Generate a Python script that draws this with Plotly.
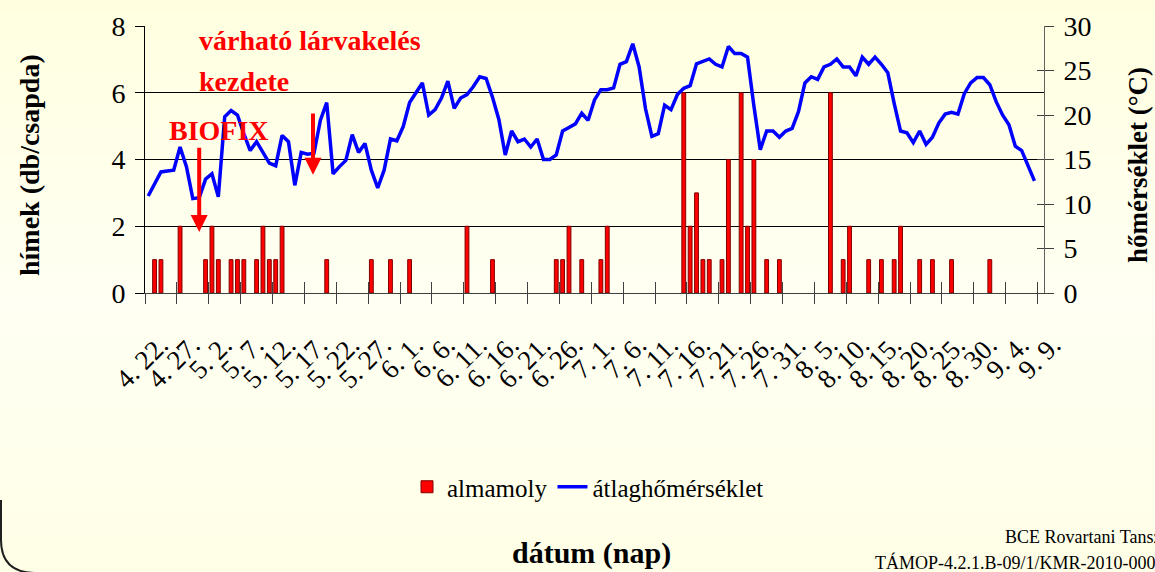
import plotly.graph_objects as go

# ---------------- data ----------------
tick_labels = ["4. 22.", "4. 27.", "5. 2.", "5. 7.", "5. 12.", "5. 17.", "5. 22.", "5. 27.",
               "6. 1.", "6. 6.", "6. 11.", "6. 16.", "6. 21.", "6. 26.", "7. 1.", "7. 6.",
               "7. 11.", "7. 16.", "7. 21.", "7. 26.", "7. 31.", "8. 5.", "8. 10.", "8. 15.",
               "8. 20.", "8. 25.", "8. 30.", "9. 4.", "9. 9."]

# daily male catches (db/csapda), 4.22 - 9.9
almamoly = [0, 1, 1, 0, 0, 2, 0, 0, 0, 1,
            2, 1, 0, 1, 1, 1, 0, 1, 2, 1,
            1, 2, 0, 0, 0, 0, 0, 0, 1, 0,
            0, 0, 0, 0, 0, 1, 0, 0, 1, 0,
            0, 1, 0, 0, 0, 0, 0, 0, 0, 0,
            2, 0, 0, 0, 1, 0, 0, 0, 0, 0,
            0, 0, 0, 0, 1, 1, 2, 0, 1, 0,
            0, 1, 2, 0, 0, 0, 0, 0, 0, 0,
            0, 0, 0, 0, 6, 2, 3, 1, 1, 0,
            1, 4, 0, 6, 2, 4, 0, 1, 0, 1,
            0, 0, 0, 0, 0, 0, 0, 6, 0, 1,
            2, 0, 0, 1, 0, 1, 0, 1, 2, 0,
            0, 1, 0, 1, 0, 0, 1, 0, 0, 0,
            0, 0, 1, 0, 0, 0, 0, 0, 0, 0,
            0]

# daily mean temperature (°C)
atlaghomerseklet = [10.9, 12.3, 13.6, 13.7, 13.8, 16.4, 14.2, 10.6, 10.7, 12.8,
                    13.4, 10.8, 19.8, 20.5, 20.0, 17.9, 16.0, 17.0, 15.8, 14.6,
                    14.3, 17.7, 17.0, 12.1, 15.8, 15.6, 15.7, 19.4, 21.4, 13.4,
                    14.2, 14.9, 17.8, 15.8, 16.8, 13.8, 11.8, 13.8, 17.3, 17.1,
                    18.7, 21.4, 22.5, 23.6, 20.0, 20.6, 21.9, 23.8, 20.75, 21.9,
                    22.3, 23.2, 24.3, 24.1, 22.0, 19.5, 15.5, 18.2, 17.0, 17.3,
                    16.4, 17.3, 15.0, 15.0, 15.5, 18.2, 18.6, 19.0, 20.2, 19.4,
                    21.7, 22.85, 22.85, 23.05, 25.7, 26.0, 28.0, 25.4, 20.7, 17.6,
                    17.9, 21.1, 20.6, 22.3, 23.0, 23.3, 25.75, 26.0, 26.3, 25.7,
                    25.4, 27.7, 26.9, 26.9, 26.5, 21.0, 16.1, 18.2, 18.2, 17.5,
                    18.2, 18.5, 20.4, 23.6, 24.3, 24.0, 25.4, 25.7, 26.3, 25.4,
                    25.4, 24.4, 26.5, 25.7, 26.5, 25.7, 24.75, 21.3, 18.2, 18.0,
                    16.9, 18.2, 16.7, 17.5, 19.1, 20.1, 20.3, 20.1, 22.4, 23.6,
                    24.2, 24.2, 23.4, 21.5, 20.0, 18.9, 16.5, 16.0, 14.2, 12.6,
                    None]

left_ticks = [0, 2, 4, 6, 8]
right_ticks = [0, 5, 10, 15, 20, 25, 30]

# annotation anchors (day index, left-axis value)
biofix_day = 8
larva_day = 25.85

# ---------------- layout helpers ----------------
FW, FH = 1155, 572
L, R, T, B = 145, 1044, 26, 293
PW, PH = R - L, B - T


def pxx(px):
    return (px - L) / PW


def pxy(py):
    return (B - py) / PH


SERIF = "Liberation Serif, Times New Roman, serif"
n = len(almamoly)
days = list(range(n))
label_vals = [5 * k for k in range(len(tick_labels))]
bound_vals = [5 * k - 0.5 for k in range(len(tick_labels))]

fig = go.Figure()
fig.add_trace(go.Bar(
    x=days, y=[v if v else None for v in almamoly], width=0.6, name="almamoly",
    marker=dict(color="#FF0000", line=dict(color="#800000", width=1)),
))
fig.add_trace(go.Scatter(
    x=days, y=atlaghomerseklet, yaxis="y2", name="átlaghőmérséklet", mode="lines",
    line=dict(color="#0000FF", width=3.5),
))
# helper traces so overlay axes (tick styling) get drawn
for xa, ya in [("x2", "y"), ("x3", "y"), ("x", "y3"), ("x", "y4")]:
    fig.add_trace(go.Scatter(x=[None], y=[None], xaxis=xa, yaxis=ya,
                             showlegend=False, hoverinfo="skip"))

# background gradient
shapes = []
N = 48


def bgcol(py):
    if py < 300:
        b = 224 + (243 - 224) * py / 300
    else:
        b = 243 + (231 - 243) * (py - 300) / 272
    return "rgb(255,255,%d)" % round(b)


for i in range(N):
    y0 = FH * i / N
    y1 = FH * (i + 1) / N
    shapes.append(dict(type="rect", xref="paper", yref="paper", layer="below",
                       x0=pxx(0), x1=pxx(FW), y0=pxy(y1 + 0.5), y1=pxy(y0),
                       fillcolor=bgcol((y0 + y1) / 2), line=dict(width=0)))
# slide frame corner
shapes.append(dict(type="path", xref="paper", yref="paper", layer="above",
                   path="M %f,%f L %f,%f Q %f,%f %f,%f" % (
                       pxx(1), pxy(500), pxx(1), pxy(540), pxx(1), pxy(572), pxx(34), pxy(573)),
                   line=dict(color="#202020", width=2)))


def note(text, px, py, size, color="black", xanchor="center", angle=0):
    return dict(text=text, x=pxx(px), y=pxy(py), xref="paper", yref="paper",
                xanchor=xanchor, yanchor="middle", textangle=angle, showarrow=False,
                font=dict(family=SERIF, size=size, color=color))


annotations = [
    note("<b>hímek (db/csapda)</b>", 30, 165, 28, angle=-90),
    note("<b>hőmérséklet (°C)</b>", 1138, 165, 27, angle=-90),
    note("<b>dátum (nap)</b>", 591, 553, 30),
    note("BCE Rovartani Tanszék", 1003, 537, 18, xanchor="left"),
    note("TÁMOP-4.2.1.B-09/1/KMR-2010-0005", 873, 562, 18, xanchor="left"),
    note("<b>várható lárvakelés</b>", 197, 40, 28, color="#FF0000", xanchor="left"),
    note("<b>kezdete</b>", 197, 82, 28, color="#FF0000", xanchor="left"),
    note("<b>BIOFIX</b>", 167, 130, 28, color="#FF0000", xanchor="left"),
    dict(text="", x=biofix_day, y=1.83, ax=biofix_day, ay=4.4, xref="x", yref="y",
         axref="x", ayref="y", showarrow=True, arrowhead=2, arrowsize=0.85, arrowwidth=4,
         arrowcolor="#FF0000"),
    dict(text="", x=larva_day, y=3.54, ax=larva_day, ay=5.42, xref="x", yref="y",
         axref="x", ayref="y", showarrow=True, arrowhead=2, arrowsize=0.85, arrowwidth=4,
         arrowcolor="#FF0000"),
]

xr = [-0.5, n - 0.5]
fig.update_layout(
    width=FW, height=FH,
    margin=dict(l=L, r=FW - R, t=T, b=FH - B, pad=0),
    paper_bgcolor="rgba(0,0,0,0)", plot_bgcolor="rgba(0,0,0,0)",
    font=dict(family=SERIF, color="black"),
    showlegend=True,
    legend=dict(orientation="h", x=pxx(588), y=pxy(487), xanchor="center", yanchor="middle",
                font=dict(family=SERIF, size=25, color="black"), bgcolor="rgba(0,0,0,0)"),
    xaxis=dict(range=xr, tickmode="array", tickvals=bound_vals, ticks="outside", ticklen=10,
               tickcolor="#404040", showticklabels=False, showline=True, linecolor="#404040",
               showgrid=False, zeroline=False),
    xaxis2=dict(overlaying="x", anchor="y", side="bottom", range=xr, tickmode="array",
                tickvals=label_vals, ticktext=tick_labels, ticks="", tickangle=-45,
                ticklabelstandoff=30, ticklabelshift=12,
                tickfont=dict(family=SERIF, size=27, color="black"),
                showline=False, showgrid=False, zeroline=False),
    xaxis3=dict(overlaying="x", anchor="y", side="bottom", range=xr, tickmode="array",
                tickvals=bound_vals, ticks="inside", ticklen=11, tickcolor="#404040",
                showticklabels=False, showline=False, showgrid=False, zeroline=False),
    yaxis=dict(range=[0, 8], tickmode="array", tickvals=left_ticks, ticks="outside", ticklen=9,
               tickcolor="black", tickfont=dict(family=SERIF, size=28, color="black"),
               ticklabelstandoff=4,
               showgrid=True, gridcolor="black", gridwidth=1, showline=True, linecolor="black",
               zeroline=False),
    yaxis2=dict(overlaying="y", anchor="x", side="right", range=[0, 30], tickmode="array",
                tickvals=right_ticks, ticks="outside", ticklen=9, tickcolor="#404040",
                tickfont=dict(family=SERIF, size=28, color="black"), ticklabelstandoff=4,
                showgrid=False, showline=True, linecolor="#606060", zeroline=False),
    yaxis3=dict(overlaying="y", anchor="x", side="left", range=[0, 8], tickmode="array",
                tickvals=left_ticks, ticks="inside", ticklen=4, tickcolor="black",
                showticklabels=False, showline=False, showgrid=False, zeroline=False),
    yaxis4=dict(overlaying="y", anchor="x", side="right", range=[0, 30], tickmode="array",
                tickvals=right_ticks, ticks="inside", ticklen=7, tickcolor="#404040",
                showticklabels=False, showline=False, showgrid=False, zeroline=False),
    shapes=shapes,
    annotations=annotations,
)

fig.write_html("out.html", config={"displayModeBar": False},
               post_script="document.body.style.margin='0';document.body.style.overflow='hidden';document.body.style.background='rgb(255,255,236)';")
